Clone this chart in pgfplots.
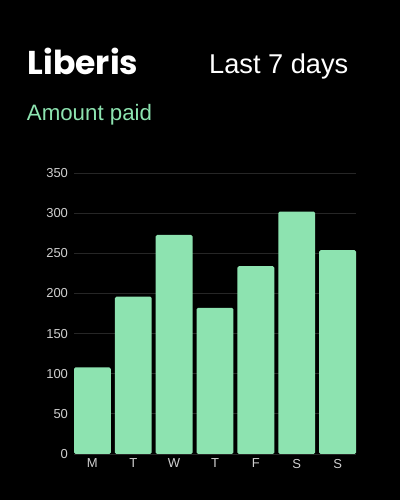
\documentclass[border=0pt]{standalone}
\usepackage{pgfplots}
\pgfplotsset{compat=1.18}
\usepackage{fontspec}
\setmainfont{Liberation Sans}
\newfontfamily\logofont{Poppins}
\definecolor{bargreen}{HTML}{8DE3B0}
\definecolor{gridgray}{HTML}{262626}
\definecolor{ticklab}{HTML}{CFCFCF}

\begin{document}
\begin{tikzpicture}[x=1pt,y=1pt]
  \fill[black] (0,0) rectangle (400,500);
  \useasboundingbox (0,0) rectangle (400,500);

  % header
  \node[anchor=base west, inner sep=0, text=white, font=\logofont\bfseries\fontsize{33}{33}\selectfont] at (27.5,425.7) {Liberis};
  \node[anchor=base west, inner sep=0, text=white, font=\fontsize{27.2}{27.2}\selectfont] at (209,426.7) {Last 7 days};
  \node[anchor=base west, inner sep=0, text=bargreen, font=\fontsize{22.3}{22.3}\selectfont] at (26.7,379.3) {Amount paid};

  \begin{axis}[
      at={(74pt,46pt)}, anchor=south west,
      scale only axis,
      width=282pt, height=281pt,
      ybar, bar width=0.9,
      xmin=-0.45, xmax=6.45,
      ymin=0, ymax=350,
      ytick={0,50,...,350},
      xtick={0,...,6},
      xticklabels={M,T,W,T,F,S,S},
      axis line style={draw=none},
      major tick length=0pt,
      ymajorgrids, grid style={gridgray, line width=0.8pt},
      tick label style={text=ticklab, font=\fontsize{13}{13}\selectfont},
      /pgf/number format/assume math mode=true,
      yticklabel style={xshift=-2.5pt},
      xticklabel style={yshift=-1.5pt},
    ]
    \addplot[fill=bargreen, draw=none, rounded corners=1.5pt, bar shift=0pt]
      coordinates {(0,108) (1,196) (2,273) (3,182) (4,234) (5,302) (6,254)};
  \end{axis}
\end{tikzpicture}
\end{document}
